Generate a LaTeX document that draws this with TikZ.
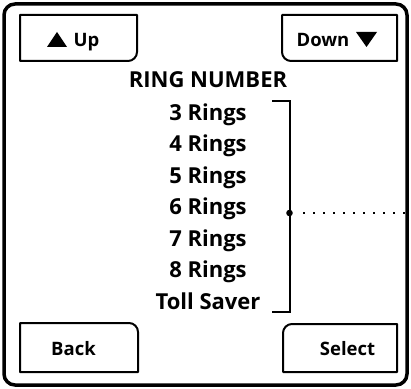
\documentclass[tikz,border=0pt]{standalone}
\usepackage{fontspec}
\setmainfont{Open Sans}
\begin{document}
\begin{tikzpicture}[x=1pt,y=1pt,
  frame/.style={line width=3.5pt, rounded corners=11pt},
  btn/.style={line width=2pt, line join=round},
  btntext/.style={font=\bfseries\fontsize{18.5}{18.5}\selectfont, anchor=base, inner sep=0pt},
  item/.style={font=\bfseries\fontsize{22}{22}\selectfont, anchor=base, inner sep=0pt},
  brk/.style={line width=2pt},
  dots/.style={line width=2.2pt, dash pattern=on 2pt off 8pt}]
\useasboundingbox (0,0) rectangle (411,388);
% outer frame
\draw[frame] (4,384) rectangle (407,3);
% Up button (bottom-right rounded)
\draw[btn] (20,373) -- (137,373) -- (137,336) arc[start angle=0,end angle=-90,radius=9] -- (20,327) -- cycle;
\fill (47,341) -- (67,341) -- (57,356) -- cycle;
\node[btntext] (up) at (86.5,341) {Up};
% Down button (bottom-left rounded)
\draw[btn] (397,373) -- (282,373) -- (282,336) arc[start angle=180,end angle=270,radius=9] -- (397,327) -- cycle;
\node[btntext] (down) at (323,341) {Down};
\fill (356,356) -- (377,356) -- (366.5,341) -- cycle;
% Back button (top-right rounded)
\draw[btn] (20,16) -- (138,16) -- (138,56) arc[start angle=0,end angle=90,radius=9] -- (20,65) -- cycle;
\node[btntext] (back) at (73.5,33) {Back};
% Select button (top-left rounded)
\draw[btn] (397,16) -- (283,16) -- (283,55) arc[start angle=180,end angle=90,radius=9] -- (397,64) -- cycle;
\node[btntext] (select) at (347.5,33) {Select};
% title and items
\node[item] (title) at (208,300) {RING NUMBER};
\node[item] (r3) at (208,267.5) {3 Rings};
\node[item] (r4) at (208,236) {4 Rings};
\node[item] (r5) at (208,204.5) {5 Rings};
\node[item] (r6) at (208,173) {6 Rings};
\node[item] (r7) at (208,141.5) {7 Rings};
\node[item] (r8) at (208,110.5) {8 Rings};
\node[item] (toll) at (208,79) {Toll Saver};
% bracket
\coordinate (bt) at (272,287);
\coordinate (bb) at (272,76);
\coordinate (dot) at (289.5,175);
\coordinate (dstart) at (303,175);
\coordinate (dend) at (406,175);
\draw[brk] (bt) -| (dot) |- (bb);
\fill (dot) circle[radius=3.3];
\draw[dots] (dstart) -- (dend);
\end{tikzpicture}
\end{document}
